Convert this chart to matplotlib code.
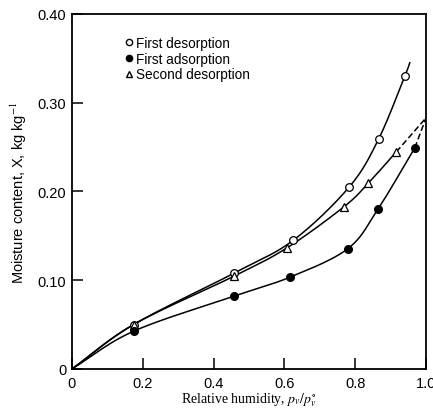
import numpy as np
import matplotlib.pyplot as plt
from matplotlib.lines import Line2D

plt.rcParams['mathtext.fontset'] = 'stix'

# readings
rh_des1 = [0.0, 0.174, 0.458, 0.625, 0.783, 0.866, 0.940]
x_des1 = [0.0, 0.050, 0.108, 0.145, 0.205, 0.259, 0.330]
rh_ads1 = [0.0, 0.174, 0.458, 0.616, 0.779, 0.864, 0.968]
x_ads1 = [0.0, 0.0425, 0.082, 0.1035, 0.1355, 0.180, 0.249]
rh_des2 = [0.0, 0.174, 0.458, 0.608, 0.769, 0.836, 0.916]
x_des2 = [0.0, 0.050, 0.1046, 0.1366, 0.183, 0.209, 0.2446]

# curve tails drawn beyond the last measured points
des1_tail = (0.954, 0.345)
extrap_end = (1.0, 0.283)


def catmull(xs, ys, n=25):
    """smooth curve through the given points (Catmull-Rom)"""
    p = np.column_stack([xs, ys])
    p = np.vstack([2 * p[0] - p[1], p, 2 * p[-1] - p[-2]])
    out = []
    t = np.linspace(0, 1, n)[:, None]
    for i in range(1, len(p) - 2):
        p0, p1, p2, p3 = p[i - 1], p[i], p[i + 1], p[i + 2]
        seg = 0.5 * ((2 * p1) + (-p0 + p2) * t
                     + (2 * p0 - 5 * p1 + 4 * p2 - p3) * t ** 2
                     + (-p0 + 3 * p1 - 3 * p2 + p3) * t ** 3)
        out.append(seg)
    c = np.vstack(out)
    return c[:, 0], c[:, 1]


fig = plt.figure(figsize=(4.33, 4.10), dpi=100)
ax = fig.add_axes([0.166, 0.0976, 0.818, 0.866])

cx, cy = catmull(rh_des1 + [des1_tail[0]], x_des1 + [des1_tail[1]])
ax.plot(cx, cy, color='black', lw=1.1)
cx, cy = catmull(rh_ads1, x_ads1)
ax.plot(cx, cy, color='black', lw=1.1)
cx, cy = catmull(rh_des2, x_des2)
ax.plot(cx, cy, color='black', lw=1.1)

# dashed extrapolation to saturation
ax.plot([rh_ads1[-1], extrap_end[0]], [x_ads1[-1], extrap_end[1]],
        color='black', lw=1.1, ls=(0, (4, 2)))
ax.plot([rh_des2[-1], extrap_end[0]], [x_des2[-1], extrap_end[1]],
        color='black', lw=1.1, ls=(0, (4, 2)))

ms = 5.5
ax.plot(rh_des1[1:], x_des1[1:], 'o', mfc='white', mec='black', mew=0.9, ms=ms)
ax.plot(rh_des2[1:], x_des2[1:], '^', mfc='white', mec='black', mew=0.9, ms=ms)
ax.plot(rh_ads1[1:], x_ads1[1:], 'o', mfc='black', mec='black', ms=ms)

ax.set_xlim(0, 1.0)
ax.set_ylim(0, 0.40)
ax.set_xticks([0, 0.2, 0.4, 0.6, 0.8, 1.0])
ax.set_xticklabels(['0', '0.2', '0.4', '0.6', '0.8', '1.0'])
ax.set_yticks([0, 0.1, 0.2, 0.3, 0.4])
ax.set_yticklabels(['0', '0.10', '0.20', '0.30', '0.40'])
ax.tick_params(direction='in', length=8, width=1.1, labelsize=10.5,
               pad=4, colors='black')
ax.tick_params(axis='x', pad=5)
for lab in ax.get_xticklabels() + ax.get_yticklabels():
    lab.set_family('Liberation Sans')
for s in ax.spines.values():
    s.set_linewidth(1.3)

ax.set_xlabel(r'Relative humidity, $p_v/p_v^{\circ}$', family='Liberation Serif',
              fontsize=10, labelpad=0)
ax.set_ylabel(r'Moisture content, X, kg kg$^{-1}$', family='Liberation Sans',
              fontsize=10.5, labelpad=6)

handles = [
    Line2D([], [], marker='o', ls='', mfc='white', mec='black', ms=4.5),
    Line2D([], [], marker='o', ls='', mfc='black', mec='black', ms=4.5),
    Line2D([], [], marker='^', ls='', mfc='white', mec='black', ms=4.5),
]
ax.legend(handles, ['First desorption', 'First adsorption', 'Second desorption'],
          loc='upper left', bbox_to_anchor=(0.115, 0.972), frameon=False,
          handlelength=0.6, handletextpad=0.25, labelspacing=0.12,
          prop={'family': 'Liberation Sans', 'size': 9.8})

fig.savefig('out.png', dpi=100)
